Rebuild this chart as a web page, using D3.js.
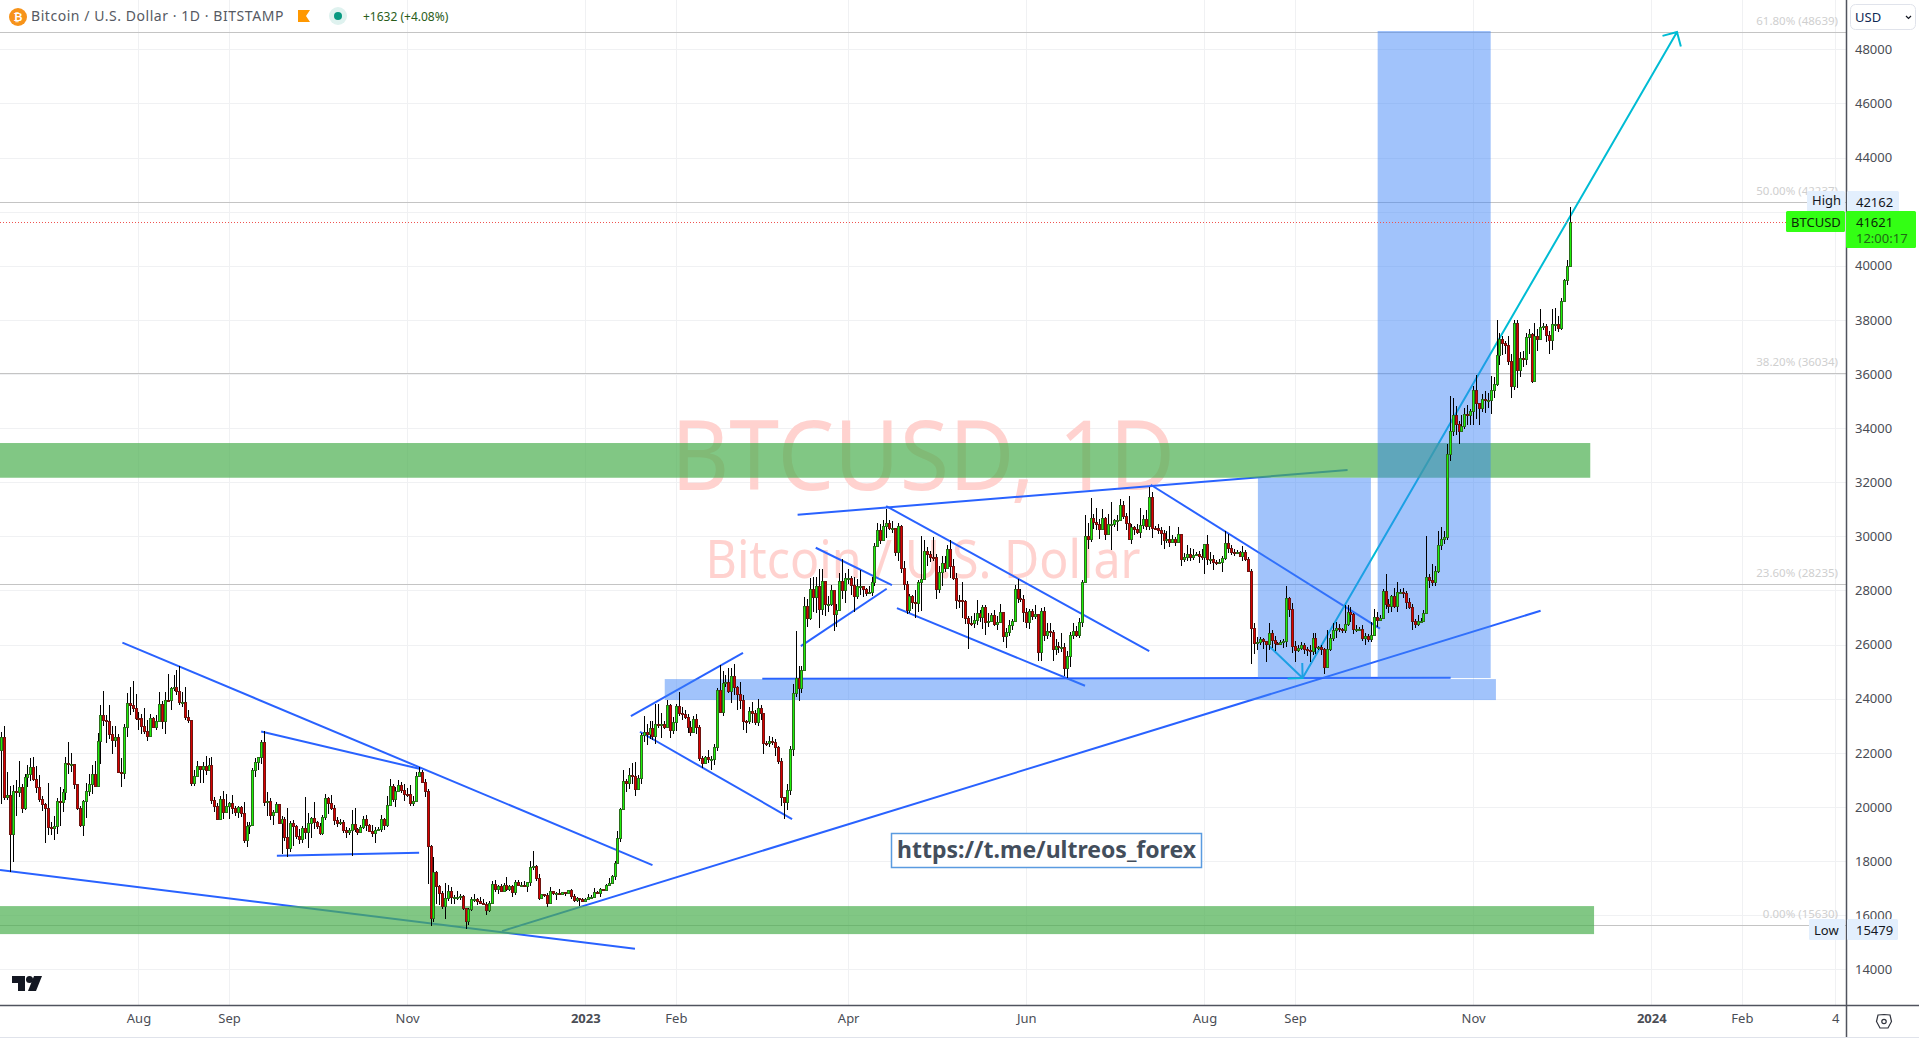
<!DOCTYPE html>
<html>
<head>
<meta charset="utf-8">
<title>BTCUSD</title>
<script src="https://cdn.jsdelivr.net/npm/d3@7/dist/d3.min.js"></script>
<style>
  html, body { margin: 0; padding: 0; background: #fff; overflow: hidden; }
  text { font-family: "Noto Sans", sans-serif; }
</style>
</head>
<body>
<div id="chart"></div>
<script>
// daily candles, first one is 2022-06-15, one row per month
var firstOpen = 22100;
var closes = [].concat(
  [22570,20385,20455,18985,20575,20570,20720,19970,21100,21230,21490,21035,20730,20280,20100,19950],
  [19250,19240,19300,20220,20170,20550,21630,21590,21590,20850,19970,19320,20210,20580,20830,21200,20780,22450,23400,23230,23160,22680,22460,22580,21300,21250,22960,23850,23770,23640,23300],
  [23280,22980,22820,22620,23300,22960,23180,23810,23160,23950,23940,24400,24440,24300,23870,23880,23340,23210,20870,21160,21520,21400,21530,21370,21560,20240,20040,19550,20290,19800,20050],
  [20130,19950,19830,20000,19790,18790,19290,19320,21360,21650,21830,22400,20170,20230,19700,19800,20110,19420,19540,18880,18480,19400,19290,18920,18800,19220,19080,19410,19590,19430],
  [19310,19050,19620,20330,20160,19960,19530,19420,19440,19130,19060,19150,19380,19180,19060,19260,19550,19330,19120,19040,19160,19200,19570,19330,20090,20770,20290,20590,20820,20630,20490],
  [20480,20160,20210,21150,21300,20920,20600,18540,15880,17590,17070,16810,16330,16620,16900,16660,16690,16690,16700,16280,15770,16220,16600,16600,16520,16460,16430,16210,16440,17170],
  [16970,17090,16890,17110,16970,17090,16840,17220,17130,17130,17090,17210,17780,17810,17360,16630,16780,16740,16440,16900,16820,16830,16780,16840,16830,16920,16700,16550,16630,16600,16540],
  [16610,16670,16670,16850,16830,16950,16940,17120,17190,17440,17940,18850,19930,20960,20870,21170,21130,20670,21080,22670,22780,22700,22910,22620,23060,23010,23070,22960,23750,22830,23130],
  [23730,23490,23430,23330,22940,22760,23240,22960,21800,21630,21860,21780,21780,22200,24330,23520,24570,24630,24280,24840,24440,24190,23940,23190,23160,23560,23490,23140],
  [23640,23470,22360,22350,22430,22410,22200,21710,20360,20190,20630,22160,24200,24770,24380,25060,27420,26970,28040,27770,28170,27300,28350,27490,27490,28000,27130,27270,28350,28030,28470],
  [28470,28190,27800,28170,28170,28040,27920,27950,28330,29650,30230,29880,30390,30490,30310,30320,29440,30390,28820,28250,27270,27810,27590,27520,28300,28420,29470,29340,29250,29230],
  [28070,28680,29030,28840,29530,28900,28450,27660,27630,27620,26980,26800,26780,26920,27170,27030,27400,26820,26890,27110,26750,26850,27220,26330,26470,26720,26860,28060,27740,27700,27220],
  [26820,27250,27070,27120,25740,27230,26340,26500,26480,25850,25940,25900,25920,25120,25590,26340,26510,26340,26840,28310,30020,29900,30690,30540,30470,30270,30690,30080,30450,30470],
  [30590,30620,31160,30770,30510,29900,30350,30290,30170,30420,30630,30390,31470,30320,30300,30250,30140,29860,29920,29800,29910,29800,30080,29180,29230,29350,29220,29320,29360,29280,29230],
  [29700,29170,29180,29070,29050,29050,29200,29770,29570,29430,29400,29420,29290,29410,29180,28730,26620,26050,26100,26190,26130,26040,26430,26170,26050,26010,26090,26120,27730,27300,25930],
  [25800,25870,25970,25820,25790,25760,26240,25900,25900,25840,25160,25840,26230,26530,26610,26570,26530,26760,27210,27130,26570,26580,26580,26260,26300,26210,26350,27030,26910,26970],
  [27980,27500,27430,27790,27410,27950,27960,27920,27590,27390,26870,26760,26860,26860,27150,28500,28400,28320,28720,29680,29920,29990,33050,33900,34490,34150,33910,34080,34530,34490,34650],
  [35420,34930,34730,35080,35040,35040,35420,35640,36690,37310,37130,37060,36480,35550,37880,36160,36590,36570,37370,37470,35750,37420,37290,37720,37790,37460,37240,37830,37850,37710],
  [38690,39470,39980,41621]
);
var highs = [].concat(
  [22780,22980,21300,20760,20800,20980,21700,20850,21200,21550,21800,21850,21530,21180,20420,20150],
  [20880,19430,19650,20330,20720,20650,21830,22400,22000,21600,20860,20050,20250,20880,21200,21550,21680,22740,23780,24270,23400,23750,22980,22980,22680,21800,23050,24200,24420,24670,24180],
  [23500,23450,23650,23200,23450,23330,23400,24250,23930,24230,24900,24450,24880,25050,25200,24250,24450,23600,23200,21370,21700,21500,21650,21900,21820,21860,20350,20150,20420,20580,20480],
  [20200,20450,20050,20030,20050,20170,19460,19450,21450,21800,21860,22480,22800,20550,20330,19880,20180,20100,19680,19630,19950,19480,19500,19320,19180,19310,20350,19790,19640,20180],
  [19480,19400,19720,20470,20360,20460,20060,19620,19550,19520,19270,19220,19900,19950,19230,19340,19680,19700,19360,19340,19250,19260,19700,19600,20400,21020,20860,20740,20990,20930,20840],
  [20700,20800,20400,21300,21480,21350,21050,20670,18600,18150,17650,17100,16900,17180,17120,17050,16730,16880,16800,16740,16280,16270,16680,16800,16620,16680,16600,16480,16530,17250],
  [17300,17100,17150,17180,17400,17100,17130,17290,17290,17220,17270,17240,18000,18370,17850,17530,16800,16800,16820,17050,16910,16860,16950,16870,16860,16940,16960,16780,16660,16640,16640],
  [16630,16770,16760,16990,16880,17020,16970,17170,17390,17490,18000,19100,19970,21380,21040,21450,21640,21650,21190,22750,23350,23070,23160,23160,23790,23810,23490,23160,23950,23800,23310],
  [23810,24250,23710,23580,23440,23160,23350,23450,23010,21900,21900,22090,21900,22320,24380,25250,25020,24880,25120,25130,25280,24470,24600,24130,23230,23690,23880,23600],
  [24000,23780,23480,22420,22620,22600,22520,22270,21810,20300,20850,22250,24550,26500,25200,25200,27750,27700,28450,28500,28500,28800,28800,28200,27800,28200,28020,27500,28650,29150,28650],
  [28800,28520,28480,28420,28750,28180,28100,28180,28500,29770,30500,30450,30600,31000,30600,30570,30320,30480,30430,29100,28350,27880,27820,28000,28400,30000,29880,29600,29450,29980],
  [29330,28900,29270,29260,29680,29850,29150,28650,27830,28320,27650,27050,27050,27180,27650,27280,27480,27480,27150,27150,27280,27050,27500,27220,26600,26920,26950,28200,28440,28050,27830],
  [27350,27300,27320,27450,27130,27350,27400,26800,26780,26530,26200,26100,26420,26050,25750,26480,26780,26670,27000,28400,30780,30500,31400,30820,31050,30650,31000,30700,30820,31280],
  [30650,30800,31380,31320,30880,31500,30450,30380,30450,31040,30800,30980,31830,31640,30400,30450,30340,30240,30200,30400,30040,29980,30350,30100,29380,29680,29570,29530,29420,29450,29530],
  [29730,30050,29420,29320,29110,29180,29280,30200,30100,29680,29530,29480,29450,29650,29480,29250,28780,26800,26280,26280,26250,26150,26800,26550,26300,26100,26180,26200,28150,27770,27550],
  [26150,25980,26100,26050,25900,26000,26430,26420,25940,25970,25880,26550,26400,26780,26850,26770,26620,27480,27480,27380,27150,26720,26640,26730,26430,26400,26830,27300,27220,27100],
  [28050,28600,27680,27830,28100,28300,28050,28100,27990,27720,27490,26950,27100,26980,27290,30000,28610,28970,28900,30200,30350,30200,33400,35200,35100,34800,34250,34470,34750,34850,34700],
  [35570,35980,34930,35260,35380,35280,35920,35900,37980,37500,37400,37230,37400,36750,37980,37980,36830,36850,37500,37650,37500,37880,37650,38400,37900,37830,37580,38400,38450,38150],
  [38800,39500,40200,42162]
);
var lows = [].concat(
  [20100,20240,20250,17600,17950,19650,20350,19780,19900,20720,20950,20950,20500,20200,19850,18650],
  [18950,18970,18770,19000,19300,19800,20250,21200,21300,20650,19880,19250,18920,19600,20400,20470,20750,20800,21600,23000,22350,22500,21950,22200,21250,20720,21050,22600,23400,23500,23230],
  [22850,22700,22700,22450,22590,22900,22860,23150,22870,22700,23900,23600,24300,24150,23780,23680,23200,23120,20780,20780,21100,20900,20900,21170,21320,20120,19820,19530,19570,19540,19850],
  [19570,19750,19670,19600,19640,18650,18530,19000,19300,21100,21370,21570,20050,19650,19500,19320,19760,19380,18250,18760,18150,18350,18550,18830,18630,18680,18820,18500,18850,19200],
  [19170,18950,18960,19500,19750,19880,19330,19250,19320,19030,18860,18980,18200,19080,18970,19050,19170,19100,19080,18900,18650,19100,19080,19160,19250,20060,20200,20000,20540,20530,20230],
  [20350,20050,20040,20200,21100,20880,20380,17170,15590,15750,16400,16360,16230,15850,16520,16400,16400,16560,16550,16180,15480,15620,16170,16470,16360,16400,16390,15990,16100,16430],
  [16860,16790,16850,16880,16880,16900,16680,16740,17100,17090,17070,16870,17080,17660,17280,16560,16580,16670,16290,16400,16740,16560,16760,16780,16700,16790,16600,16470,16490,16330,16470],
  [16500,16550,16600,16650,16770,16670,16910,16910,17100,17150,17310,17900,18700,19900,20550,20650,20850,20400,20650,20850,22400,22300,22500,22460,22320,22900,22530,22870,22960,22550,22700],
  [22820,23370,23220,23250,22750,22630,22750,22700,21700,21450,21600,21630,21350,21550,22050,23500,23350,24450,24200,23850,24150,23600,23620,22850,22750,23060,23100,23030],
  [23000,23200,21950,22240,22200,22280,21900,21580,20050,19570,19900,20430,21900,24050,23900,24200,25020,26650,26900,27200,27150,26600,27100,27050,27200,27430,26500,26650,27250,27700,27550],
  [28250,27850,27200,27670,27840,27750,27780,27880,27800,28170,29620,29700,29880,29950,30230,30120,29270,29100,28650,28000,27130,27150,27330,26970,27200,27250,28400,28900,29050,29100],
  [27700,27900,28150,28700,28800,28450,28380,27300,27350,27000,26750,25830,26700,26600,26730,26850,26570,26370,26650,26830,26680,26530,26820,26080,25870,26330,26540,26830,27550,27560,26850],
  [26600,26570,26920,26950,25400,25380,26120,26220,26270,25400,25600,25680,25720,24850,24780,25180,26200,26280,26260,26650,28280,29550,29800,30270,30250,29900,30220,29880,30050,29500],
  [30330,30200,30580,30650,30220,29860,29700,30050,30080,29950,30280,30230,30250,29950,30250,30080,29680,29530,29750,29600,29740,29650,29750,28900,29050,29100,29100,29130,29270,29030,29130],
  [28600,28950,28980,28760,28960,28980,28700,29130,29370,29320,29270,29360,29250,29080,29100,28700,25300,25650,25800,25980,25850,25350,25800,25880,25780,25980,25980,25880,25920,27020,25680],
  [25350,25720,25800,25650,25570,25350,25620,25650,25800,25600,24900,25130,25750,26120,26250,26470,26420,26420,26680,26850,26380,26480,26530,26150,26000,26100,26100,26320,26650,26880],
  [26950,27320,27180,27220,27350,27200,27880,27720,27300,27300,26550,26620,26700,26800,26830,27120,28100,28150,28180,28650,29480,29700,29880,32800,33700,33750,33400,33850,33950,34100,34100],
  [34100,34350,34100,34580,34550,34730,34530,35120,35550,36350,36700,36750,36330,35100,35400,35500,35900,36250,36350,36750,35650,35700,36850,37600,37620,37170,36750,36900,37600,37550],
  [37620,38650,39300,39980]
);

var gridPrices = [14000,16000,18000,20000,22000,24000,26000,28000,30000,32000,34000,36000,38000,40000,42000,44000,46000,48000];
// 42000 sits under the high/last tags in the picture, so it gets no label
var priceTicks = [14000,16000,18000,20000,22000,24000,26000,28000,30000,32000,34000,36000,38000,40000,44000,46000,48000];
var monthTicks = ["2022-08-01","2022-09-01","2022-11-01","2023-01-01","2023-02-01","2023-04-01","2023-06-01","2023-08-01","2023-09-01","2023-11-01","2024-01-01","2024-02-01","2024-03-04"];
var monthLabels = ["Aug","Sep","Nov","2023","Feb","Apr","Jun","Aug","Sep","Nov","2024","Feb","4"];
var boldLabels = ["2023","2024"];

var fibPrices = [48639,42340,36034,28235,15630];
var fibLabels = ["61.80% (48639)","50.00% (42237)","38.20% (36034)","23.60% (28235)","0.00% (15630)"];

// drawings, as [day from 2023-01-01, price, day, price]
var trendLines = [
  [-200.4,17667,17.0,14762],
  [-158.5,26072,23.0,17852],
  [-111.0,22786,-56.4,21400],
  [-105.6,18195,-56.9,18306],
  [-28.5,15412,327.1,27251],
  [15.6,23359,54.0,25698],
  [18.7,22779,70.8,19552],
  [78.9,29579,105.0,28201],
  [73.8,25946,103.2,28064],
  [72.7,30799,261.0,32451],
  [103.0,31120,193.1,25761],
  [106.7,27350,171.1,24479],
  [60.6,24737,296.3,24774],
  [193.6,31908,272.1,26593]
];
var arrowLines = [
  [234.4,25920,245.6,24763],
  [245.6,24763,373.8,48639]
];
// [day, day, price, price]
var greenZones = [
  [-201,344.1,33449,32166],
  [-201,345.4,16336,15301]
];
var blueZones = [
  [230.3,269.0,32166,24763],
  [271.3,310.0,48676,24763],
  [27.2,311.8,24726,23950]
];

var lastPrice = 41621, highPrice = 42162, lowPrice = 15479;

var width = 1919, height = 1038;
var plotRight = 1846, plotBottom = 1005.5;

var x = d3.scaleUtc()
  .domain([new Date(Date.UTC(2023,0,1)), new Date(Date.UTC(2024,0,1))])
  .range([585.3, 1651.3]);
var y = d3.scaleLinear()
  .domain([48000, 14000])
  .range([49.3, 969.3]);

function xDay(n) { return x(new Date(Date.UTC(2023,0,1) + n*86400000)); }

var candles = closes.map(function(c, i) {
  return {
    date: new Date(Date.UTC(2022,5,15+i)),
    open: i == 0 ? firstOpen : closes[i-1],
    close: c,
    high: highs[i],
    low: lows[i]
  };
});

var svg = d3.select("#chart").append("svg")
  .attr("width", width)
  .attr("height", height)
  .style("display", "block");

var clip = svg.append("clipPath").attr("id", "plotClip").append("rect")
  .attr("x", 0).attr("y", 0).attr("width", plotRight).attr("height", plotBottom);
var plot = svg.append("g").attr("clip-path", "url(#plotClip)");

// grid
plot.selectAll(".hgrid").data(gridPrices).enter().append("line")
  .attr("x1", 0).attr("x2", plotRight)
  .attr("y1", function(d) { return Math.round(y(d)) + 0.5; })
  .attr("y2", function(d) { return Math.round(y(d)) + 0.5; })
  .style("stroke", "#f0f1f3");
plot.selectAll(".vgrid").data(monthTicks).enter().append("line")
  .attr("x1", function(d) { return Math.round(x(new Date(d + "T00:00:00Z"))) + 0.5; })
  .attr("x2", function(d) { return Math.round(x(new Date(d + "T00:00:00Z"))) + 0.5; })
  .attr("y1", 0).attr("y2", plotBottom)
  .style("stroke", "#f0f1f3");

// watermark
plot.append("text")
  .attr("x", 923).attr("y", 490)
  .attr("text-anchor", "middle")
  .attr("textLength", 504)
  .attr("lengthAdjust", "spacingAndGlyphs")
  .text("BTCUSD, 1D")
  .style("font-size", "96px")
  .style("fill", "#ffd2cf");
plot.append("text")
  .attr("x", 923).attr("y", 578)
  .attr("text-anchor", "middle")
  .attr("textLength", 435)
  .attr("lengthAdjust", "spacingAndGlyphs")
  .text("Bitcoin / U.S. Dollar")
  .style("font-size", "52px")
  .style("fill", "#ffd2cf");

// fib levels
plot.selectAll(".fibLine").data(fibPrices).enter().append("line")
  .attr("x1", 0).attr("x2", plotRight)
  .attr("y1", function(d) { return Math.round(y(d)) + 0.5; })
  .attr("y2", function(d) { return Math.round(y(d)) + 0.5; })
  .style("stroke", "#c4c4c4");
plot.selectAll(".fibLabel").data(fibLabels).enter().append("text")
  .attr("x", 1838)
  .attr("y", function(d, i) { return y(fibPrices[i]) - 7; })
  .attr("text-anchor", "end")
  .text(function(d) { return d; })
  .style("font-size", "11.5px")
  .style("fill", "#cfcfcf");

// trend lines
plot.selectAll(".trend").data(trendLines).enter().append("line")
  .attr("x1", function(d) { return xDay(d[0]); })
  .attr("y1", function(d) { return y(d[1]); })
  .attr("x2", function(d) { return xDay(d[2]); })
  .attr("y2", function(d) { return y(d[3]); })
  .style("stroke", "#2962ff")
  .style("stroke-width", 2);

// cyan arrows, head worked out from the line direction
var arrowPaths = arrowLines.map(function(d) {
  var x0 = xDay(d[0]), y0 = y(d[1]), x1 = xDay(d[2]), y1 = y(d[3]);
  var ang = Math.atan2(y0 - y1, x0 - x1), len = 15, spread = Math.PI / 4;
  return "M" + x0 + "," + y0 + "L" + x1 + "," + y1 +
    "M" + (x1 + len*Math.cos(ang - spread)) + "," + (y1 + len*Math.sin(ang - spread)) +
    "L" + x1 + "," + y1 +
    "L" + (x1 + len*Math.cos(ang + spread)) + "," + (y1 + len*Math.sin(ang + spread));
});
plot.selectAll(".arrow").data(arrowPaths).enter().append("path")
  .attr("d", function(d) { return d; })
  .style("fill", "none")
  .style("stroke", "#00bcd4")
  .style("stroke-width", 2);

// zones
plot.selectAll(".greenZone").data(greenZones).enter().append("rect")
  .attr("x", function(d) { return xDay(d[0]); })
  .attr("width", function(d) { return xDay(d[1]) - xDay(d[0]); })
  .attr("y", function(d) { return y(d[2]); })
  .attr("height", function(d) { return y(d[3]) - y(d[2]); })
  .style("fill", "#4caf50")
  .style("fill-opacity", 0.7);
plot.selectAll(".blueZone").data(blueZones).enter().append("rect")
  .attr("x", function(d) { return xDay(d[0]); })
  .attr("width", function(d) { return xDay(d[1]) - xDay(d[0]); })
  .attr("y", function(d) { return y(d[2]); })
  .attr("height", function(d) { return y(d[3]) - y(d[2]); })
  .style("fill", "#3b82f6")
  .style("fill-opacity", 0.48);

// last price line
plot.append("line")
  .attr("x1", 0).attr("x2", 1786)
  .attr("y1", Math.round(y(lastPrice)) + 0.5)
  .attr("y2", Math.round(y(lastPrice)) + 0.5)
  .style("stroke", "#ef5350")
  .style("stroke-dasharray", "1,2");

// candles
var candle = plot.selectAll(".candle").data(candles).enter().append("g")
  .attr("class", "candle");
candle.append("line")
  .attr("x1", function(d) { return Math.round(x(d.date)) + 0.5; })
  .attr("x2", function(d) { return Math.round(x(d.date)) + 0.5; })
  .attr("y1", function(d) { return Math.round(y(d.high)); })
  .attr("y2", function(d) { return Math.round(y(d.low)); })
  .style("stroke", "#000");
candle.append("rect")
  .attr("x", function(d) { return Math.round(x(d.date)) - 0.5; })
  .attr("width", 2)
  .attr("y", function(d) { return Math.round(y(Math.max(d.open, d.close))) + 0.5; })
  .attr("height", function(d) { return Math.max(Math.round(y(Math.min(d.open, d.close))) - Math.round(y(Math.max(d.open, d.close))), 1); })
  .style("fill", function(d) { return d.close >= d.open ? "#1ef00a" : "#d80000"; })
  .style("stroke", function(d) { return d.close >= d.open ? "#2b6e1c" : "#6e1410"; })
  .style("shape-rendering", "crispEdges");

// link box
plot.append("rect")
  .attr("x", 891.5).attr("y", 833.5)
  .attr("width", 310).attr("height", 34)
  .style("fill", "#fff")
  .style("stroke", "#5a9be0")
  .style("stroke-width", 1.5);
plot.append("text")
  .attr("x", 1046.5).attr("y", 858)
  .attr("text-anchor", "middle")
  .attr("textLength", 299)
  .attr("lengthAdjust", "spacingAndGlyphs")
  .text("https://t.me/ultreos_forex")
  .style("font-weight", "bold")
  .style("font-size", "23px")
  .style("fill", "#434e5c");

// tradingview mark
var logo = svg.append("g").attr("transform", "translate(12,976)").style("fill", "#131722");
logo.append("path").attr("d", "M0,0H13V15H6V7H0Z");
logo.append("circle").attr("cx", 17.5).attr("cy", 3.5).attr("r", 3.5);
logo.append("path").attr("d", "M22,0H30L24,15H16Z");

// price axis
var yAxis = d3.axisRight(y).tickValues(priceTicks).tickSize(0).tickPadding(9).tickFormat(d3.format("d"));
var yG = svg.append("g").attr("transform", "translate(" + plotRight + ",0)").call(yAxis);
yG.select(".domain").remove();
yG.selectAll("text")
  .style("font-size", "13px")
  .style("fill", "#4a4d55");

// time axis
var xAxis = d3.axisBottom(x)
  .tickValues(monthTicks.map(function(d) { return new Date(d + "T00:00:00Z"); }))
  .tickSize(0).tickPadding(8)
  .tickFormat(function(d, i) { return monthLabels[i]; });
var xG = svg.append("g").attr("transform", "translate(0," + plotBottom + ")").call(xAxis);
xG.select(".domain").remove();
xG.selectAll("text")
  .style("font-size", "13px")
  .style("font-weight", function(d, i) { return boldLabels.indexOf(monthLabels[i]) >= 0 ? "bold" : "normal"; })
  .style("fill", "#4a4d55");

// frame
svg.append("line").attr("x1", plotRight + 0.5).attr("x2", plotRight + 0.5).attr("y1", 0).attr("y2", 1037).style("stroke", "#50535e").style("stroke-width", 1.5);
svg.append("line").attr("x1", 0).attr("x2", width).attr("y1", plotBottom).attr("y2", plotBottom).style("stroke", "#50535e").style("stroke-width", 1.5);
svg.append("line").attr("x1", 0).attr("x2", width).attr("y1", 1037.5).attr("y2", 1037.5).style("stroke", "#e0e3eb");

// price labels
function tag(bx, by, bw, bh, fill) {
  svg.append("rect").attr("x", bx).attr("y", by).attr("width", bw).attr("height", bh).attr("rx", 1.5).style("fill", fill);
}
function tagText(tx, ty, s, col) {
  svg.append("text").attr("x", tx).attr("y", ty).text(s)
    .style("font-size", "13px").style("fill", col);
}
tag(1807, 191, 38, 21, "#e3effd");
tag(1847, 191, 52, 21, "#e3effd");
tagText(1812, 205, "High", "#131722");
tagText(1856, 207, d3.format("d")(highPrice), "#131722");

tag(1786, 211, 59, 21, "#33ff14");
tag(1846, 211, 70, 37, "#33ff14");
tagText(1791, 227, "BTCUSD", "#0d2a08");
tagText(1856, 227, d3.format("d")(lastPrice), "#0d2a08");
tagText(1856, 243, "12:00:17", "#1f6a14");

tag(1809, 919, 36, 21, "#e3effd");
tag(1847, 919, 51, 21, "#e3effd");
tagText(1814, 935, "Low", "#131722");
tagText(1856, 935, d3.format("d")(lowPrice), "#131722");

// gear
svg.append("path").attr("d", "M1878,1015L1884,1014.5L1890,1015L1891.5,1021.5L1888,1028H1880L1876.5,1021.5Z")
  .style("fill", "none").style("stroke", "#30333d").style("stroke-width", 1.2);
svg.append("circle").attr("cx", 1884).attr("cy", 1021.5).attr("r", 2.2)
  .style("fill", "none").style("stroke", "#30333d").style("stroke-width", 1.2);

// header
svg.append("circle").attr("cx", 18).attr("cy", 17).attr("r", 9).style("fill", "#f7931a");
svg.append("text").attr("x", 18).attr("y", 21).attr("text-anchor", "middle")
  .text("₿")
  .style("font-family", "'DejaVu Sans', sans-serif")
  .style("font-size", "11px").style("font-weight", "bold").style("fill", "#fff");
svg.append("text").attr("x", 31).attr("y", 21)
  .text("Bitcoin / U.S. Dollar · 1D · BITSTAMP")
  .style("font-size", "14px")
  .style("letter-spacing", "0.55px")
  .style("fill", "#565a63");
svg.append("path").attr("d", "M298,10H310L306,16L310,22H298Z").style("fill", "#ff9800");
svg.append("circle").attr("cx", 338).attr("cy", 16).attr("r", 9).style("fill", "#dff2ef");
svg.append("circle").attr("cx", 338).attr("cy", 16).attr("r", 4).style("fill", "#089981");
svg.append("text").attr("x", 363).attr("y", 20.5)
  .text("+1632 (+4.08%)")
  .style("font-size", "12px").style("fill", "#2a5d1a");

// currency box
svg.append("rect").attr("x", 1850.5).attr("y", 4.5).attr("width", 65).attr("height", 25).attr("rx", 5)
  .style("fill", "#fff").style("stroke", "#e0e3eb");
svg.append("text").attr("x", 1855).attr("y", 22).text("USD")
  .style("font-size", "13px").style("fill", "#0f2a55");
svg.append("path").attr("d", "M1906,16L1908.5,18.5L1911,16").style("fill", "none").style("stroke", "#131722").style("stroke-width", 1.2);
</script>
</body>
</html>
